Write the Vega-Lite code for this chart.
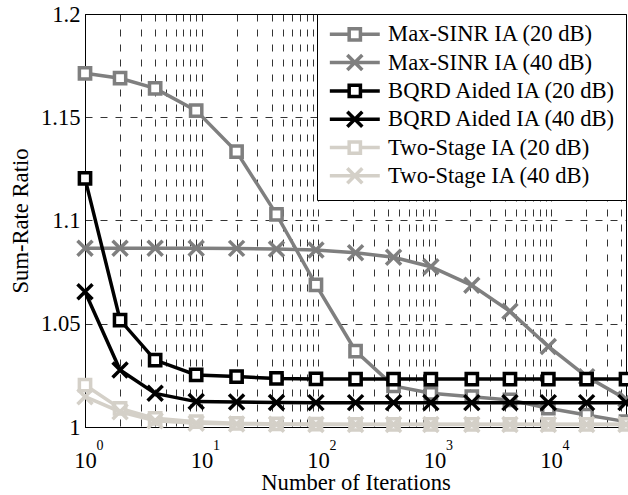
{
  "$schema": "https://vega.github.io/schema/vega-lite/v6.json",
  "width": 541,
  "height": 413,
  "autosize": {"type": "none"},
  "padding": {"left": 85, "top": 14, "right": 2, "bottom": 68},
  "background": "white",
  "config": {
    "font": "Liberation Serif",
    "view": {"stroke": "black", "strokeWidth": 1},
    "axis": {
      "labelFont": "Liberation Serif", "titleFont": "Liberation Serif",
      "labelColor": "black", "titleColor": "black", "titleFontWeight": "normal",
      "domainColor": "black", "gridColor": "black", "gridDash": [7, 8],
      "gridOpacity": 1, "gridWidth": 0.8, "labelOverlap": false, "labelFlush": false
    },
    "legend": {
      "orient": "top-right", "offset": 0, "title": null,
      "labelFont": "Liberation Serif", "labelFontSize": 22.6, "labelColor": "black",
      "labelLimit": 0, "strokeColor": "black", "fillColor": "white", "padding": 9,
      "rowPadding": 0.3, "symbolSize": 225, "symbolOffset": 17.5, "labelOffset": 22,
      "symbolStrokeWidth": 3.5, "cornerRadius": 0
    }
  },
  "data": {
    "values": [
      {"s": "Max-SINR IA (20 dB)", "x": 1, "y": 1.1713},
      {"s": "Max-SINR IA (20 dB)", "x": 2, "y": 1.1689},
      {"s": "Max-SINR IA (20 dB)", "x": 4, "y": 1.164},
      {"s": "Max-SINR IA (20 dB)", "x": 9, "y": 1.1532},
      {"s": "Max-SINR IA (20 dB)", "x": 20, "y": 1.1333},
      {"s": "Max-SINR IA (20 dB)", "x": 44, "y": 1.103},
      {"s": "Max-SINR IA (20 dB)", "x": 96, "y": 1.0688},
      {"s": "Max-SINR IA (20 dB)", "x": 210, "y": 1.0368},
      {"s": "Max-SINR IA (20 dB)", "x": 445, "y": 1.0199},
      {"s": "Max-SINR IA (20 dB)", "x": 930, "y": 1.0163},
      {"s": "Max-SINR IA (20 dB)", "x": 2090, "y": 1.0147},
      {"s": "Max-SINR IA (20 dB)", "x": 4440, "y": 1.0131},
      {"s": "Max-SINR IA (20 dB)", "x": 9480, "y": 1.0091},
      {"s": "Max-SINR IA (20 dB)", "x": 20200, "y": 1.0058},
      {"s": "Max-SINR IA (20 dB)", "x": 44000, "y": 1.0026},
      {"s": "Max-SINR IA (40 dB)", "x": 1, "y": 1.0866},
      {"s": "Max-SINR IA (40 dB)", "x": 2, "y": 1.0866},
      {"s": "Max-SINR IA (40 dB)", "x": 4, "y": 1.0866},
      {"s": "Max-SINR IA (40 dB)", "x": 9, "y": 1.0866},
      {"s": "Max-SINR IA (40 dB)", "x": 20, "y": 1.0865},
      {"s": "Max-SINR IA (40 dB)", "x": 44, "y": 1.0862},
      {"s": "Max-SINR IA (40 dB)", "x": 96, "y": 1.0857},
      {"s": "Max-SINR IA (40 dB)", "x": 210, "y": 1.0844},
      {"s": "Max-SINR IA (40 dB)", "x": 445, "y": 1.0822},
      {"s": "Max-SINR IA (40 dB)", "x": 930, "y": 1.0776},
      {"s": "Max-SINR IA (40 dB)", "x": 2090, "y": 1.0686},
      {"s": "Max-SINR IA (40 dB)", "x": 4440, "y": 1.056},
      {"s": "Max-SINR IA (40 dB)", "x": 9480, "y": 1.039},
      {"s": "Max-SINR IA (40 dB)", "x": 20200, "y": 1.0244},
      {"s": "Max-SINR IA (40 dB)", "x": 44000, "y": 1.0135},
      {"s": "BQRD Aided IA (20 dB)", "x": 1, "y": 1.1204},
      {"s": "BQRD Aided IA (20 dB)", "x": 2, "y": 1.0518},
      {"s": "BQRD Aided IA (20 dB)", "x": 4, "y": 1.0324},
      {"s": "BQRD Aided IA (20 dB)", "x": 9, "y": 1.0252},
      {"s": "BQRD Aided IA (20 dB)", "x": 20, "y": 1.0244},
      {"s": "BQRD Aided IA (20 dB)", "x": 44, "y": 1.0235},
      {"s": "BQRD Aided IA (20 dB)", "x": 96, "y": 1.0233},
      {"s": "BQRD Aided IA (20 dB)", "x": 210, "y": 1.0232},
      {"s": "BQRD Aided IA (20 dB)", "x": 445, "y": 1.0232},
      {"s": "BQRD Aided IA (20 dB)", "x": 930, "y": 1.0232},
      {"s": "BQRD Aided IA (20 dB)", "x": 2090, "y": 1.0232},
      {"s": "BQRD Aided IA (20 dB)", "x": 4440, "y": 1.0232},
      {"s": "BQRD Aided IA (20 dB)", "x": 9480, "y": 1.0232},
      {"s": "BQRD Aided IA (20 dB)", "x": 20200, "y": 1.0232},
      {"s": "BQRD Aided IA (20 dB)", "x": 44000, "y": 1.0232},
      {"s": "BQRD Aided IA (40 dB)", "x": 1, "y": 1.0655},
      {"s": "BQRD Aided IA (40 dB)", "x": 2, "y": 1.0276},
      {"s": "BQRD Aided IA (40 dB)", "x": 4, "y": 1.0163},
      {"s": "BQRD Aided IA (40 dB)", "x": 9, "y": 1.0123},
      {"s": "BQRD Aided IA (40 dB)", "x": 20, "y": 1.0121},
      {"s": "BQRD Aided IA (40 dB)", "x": 44, "y": 1.0119},
      {"s": "BQRD Aided IA (40 dB)", "x": 96, "y": 1.0118},
      {"s": "BQRD Aided IA (40 dB)", "x": 210, "y": 1.0118},
      {"s": "BQRD Aided IA (40 dB)", "x": 445, "y": 1.0118},
      {"s": "BQRD Aided IA (40 dB)", "x": 930, "y": 1.0118},
      {"s": "BQRD Aided IA (40 dB)", "x": 2090, "y": 1.0118},
      {"s": "BQRD Aided IA (40 dB)", "x": 4440, "y": 1.0118},
      {"s": "BQRD Aided IA (40 dB)", "x": 9480, "y": 1.0118},
      {"s": "BQRD Aided IA (40 dB)", "x": 20200, "y": 1.0118},
      {"s": "BQRD Aided IA (40 dB)", "x": 44000, "y": 1.0118},
      {"s": "Two-Stage IA (20 dB)", "x": 1, "y": 1.0203},
      {"s": "Two-Stage IA (20 dB)", "x": 2, "y": 1.009},
      {"s": "Two-Stage IA (20 dB)", "x": 4, "y": 1.0042},
      {"s": "Two-Stage IA (20 dB)", "x": 9, "y": 1.0026},
      {"s": "Two-Stage IA (20 dB)", "x": 20, "y": 1.0018},
      {"s": "Two-Stage IA (20 dB)", "x": 44, "y": 1.0015},
      {"s": "Two-Stage IA (20 dB)", "x": 96, "y": 1.0014},
      {"s": "Two-Stage IA (20 dB)", "x": 210, "y": 1.0013},
      {"s": "Two-Stage IA (20 dB)", "x": 445, "y": 1.0013},
      {"s": "Two-Stage IA (20 dB)", "x": 930, "y": 1.0013},
      {"s": "Two-Stage IA (20 dB)", "x": 2090, "y": 1.0013},
      {"s": "Two-Stage IA (20 dB)", "x": 4440, "y": 1.0013},
      {"s": "Two-Stage IA (20 dB)", "x": 9480, "y": 1.0013},
      {"s": "Two-Stage IA (20 dB)", "x": 20200, "y": 1.0013},
      {"s": "Two-Stage IA (20 dB)", "x": 44000, "y": 1.0013},
      {"s": "Two-Stage IA (40 dB)", "x": 1, "y": 1.0147},
      {"s": "Two-Stage IA (40 dB)", "x": 2, "y": 1.0074},
      {"s": "Two-Stage IA (40 dB)", "x": 4, "y": 1.003},
      {"s": "Two-Stage IA (40 dB)", "x": 9, "y": 1.0018},
      {"s": "Two-Stage IA (40 dB)", "x": 20, "y": 1.0015},
      {"s": "Two-Stage IA (40 dB)", "x": 44, "y": 1.0013},
      {"s": "Two-Stage IA (40 dB)", "x": 96, "y": 1.0012},
      {"s": "Two-Stage IA (40 dB)", "x": 210, "y": 1.0012},
      {"s": "Two-Stage IA (40 dB)", "x": 445, "y": 1.0012},
      {"s": "Two-Stage IA (40 dB)", "x": 930, "y": 1.0012},
      {"s": "Two-Stage IA (40 dB)", "x": 2090, "y": 1.0012},
      {"s": "Two-Stage IA (40 dB)", "x": 4440, "y": 1.0012},
      {"s": "Two-Stage IA (40 dB)", "x": 9480, "y": 1.0012},
      {"s": "Two-Stage IA (40 dB)", "x": 20200, "y": 1.0012},
      {"s": "Two-Stage IA (40 dB)", "x": 44000, "y": 1.0012}
    ]
  },
  "resolve": {"axis": {"x": "independent"}},
  "layer": [
    {
      "encoding": {
        "x": {
          "field": "x", "type": "quantitative",
          "scale": {"type": "log", "domain": [1, 44000], "nice": false},
          "axis": {
            "orient": "bottom", "title": "Number of Iterations",
            "values": [1,2,3,4,5,6,7,8,9,10,20,30,40,50,60,70,80,90,100,200,300,400,500,600,700,800,900,1000,2000,3000,4000,5000,6000,7000,8000,9000,10000,20000,30000,40000],
            "labelExpr": "indexof([1,10,100,1000,10000], datum.value) >= 0 ? '10' : ''",
            "grid": true, "ticks": false, "tickSize": 0, "labelPadding": 22,
            "labelFontSize": 22.6, "titleFontSize": 22.6, "titlePadding": 0
          }
        },
        "y": {
          "field": "y", "type": "quantitative",
          "scale": {"domain": [1, 1.2], "nice": false, "zero": false},
          "axis": {
            "title": "Sum-Rate Ratio", "values": [1, 1.05, 1.1, 1.15, 1.2], "format": "~g",
            "grid": true, "ticks": false, "tickSize": 0, "labelPadding": 5,
            "labelFontSize": 22.6, "titleFontSize": 22.6, "titlePadding": 8
          }
        },
        "color": {
          "field": "s", "type": "nominal",
          "scale": {
            "domain": ["Max-SINR IA (20 dB)", "Max-SINR IA (40 dB)", "BQRD Aided IA (20 dB)", "BQRD Aided IA (40 dB)", "Two-Stage IA (20 dB)", "Two-Stage IA (40 dB)"],
            "range": ["#7f7f7f", "#7f7f7f", "#000000", "#000000", "#d4d0c8", "#d4d0c8"]
          },
          "legend": {
            "symbolType": "circle",
            "encode": {
              "symbols": {
                "update": {
                  "shape": {"signal": "indexof(datum.value, '20 dB') >= 0 ? 'M-3.33,0H-0.75M0.75,0H3.33M-0.75,-0.75H0.75V0.75H-0.75Z' : 'M-3.33,0H3.33M-1,-1L1,1M-1,1L1,-1'"},
                  "fill": {"value": "white"},
                  "stroke": {"scale": "color", "field": "value"},
                  "strokeWidth": {"value": 3.5},
                  "size": {"value": 225},
                  "opacity": {"value": 1}
                }
              }
            }
          }
        }
      },
      "layer": [
        {"transform": [{"filter": "datum.s == 'Max-SINR IA (20 dB)'"}], "layer": [
          {"mark": {"type": "line", "strokeWidth": 3.5}},
          {"mark": {"type": "point", "shape": "M-0.75,-0.75H0.75V0.75H-0.75Z", "filled": false, "fill": "white", "size": 225, "strokeWidth": 3.5, "opacity": 1}}
        ]},
        {"transform": [{"filter": "datum.s == 'Max-SINR IA (40 dB)'"}], "layer": [
          {"mark": {"type": "line", "strokeWidth": 3.5}},
          {"mark": {"type": "point", "shape": "M-1,-1L1,1M-1,1L1,-1", "filled": false, "fill": "white", "size": 225, "strokeWidth": 3.5, "opacity": 1}}
        ]},
        {"transform": [{"filter": "datum.s == 'BQRD Aided IA (20 dB)'"}], "layer": [
          {"mark": {"type": "line", "strokeWidth": 3.5}},
          {"mark": {"type": "point", "shape": "M-0.75,-0.75H0.75V0.75H-0.75Z", "filled": false, "fill": "white", "size": 225, "strokeWidth": 3.5, "opacity": 1}}
        ]},
        {"transform": [{"filter": "datum.s == 'BQRD Aided IA (40 dB)'"}], "layer": [
          {"mark": {"type": "line", "strokeWidth": 3.5}},
          {"mark": {"type": "point", "shape": "M-1,-1L1,1M-1,1L1,-1", "filled": false, "fill": "white", "size": 225, "strokeWidth": 3.5, "opacity": 1}}
        ]},
        {"transform": [{"filter": "datum.s == 'Two-Stage IA (20 dB)'"}], "layer": [
          {"mark": {"type": "line", "strokeWidth": 3.5}},
          {"mark": {"type": "point", "shape": "M-0.75,-0.75H0.75V0.75H-0.75Z", "filled": false, "fill": "white", "size": 225, "strokeWidth": 3.5, "opacity": 1}}
        ]},
        {"transform": [{"filter": "datum.s == 'Two-Stage IA (40 dB)'"}], "layer": [
          {"mark": {"type": "line", "strokeWidth": 3.5}},
          {"mark": {"type": "point", "shape": "M-1,-1L1,1M-1,1L1,-1", "filled": false, "fill": "white", "size": 225, "strokeWidth": 3.5, "opacity": 1}}
        ]}
      ]
    },
    {
      "mark": {"type": "point", "opacity": 0},
      "encoding": {
        "x": {
          "field": "x", "type": "quantitative",
          "scale": {"type": "log", "domain": [1, 44000], "nice": false},
          "axis": {
            "orient": "bottom", "title": null, "values": [1, 10, 100, 1000, 10000],
            "labelExpr": "format(round(log(datum.value) / LN10), 'd')",
            "labelFontSize": 14, "labelAlign": "left", "labelBaseline": "top", "labelOffset": 11, "labelPadding": 11,
            "grid": false, "ticks": false, "tickSize": 0, "domain": false
          }
        }
      }
    }
  ]
}
